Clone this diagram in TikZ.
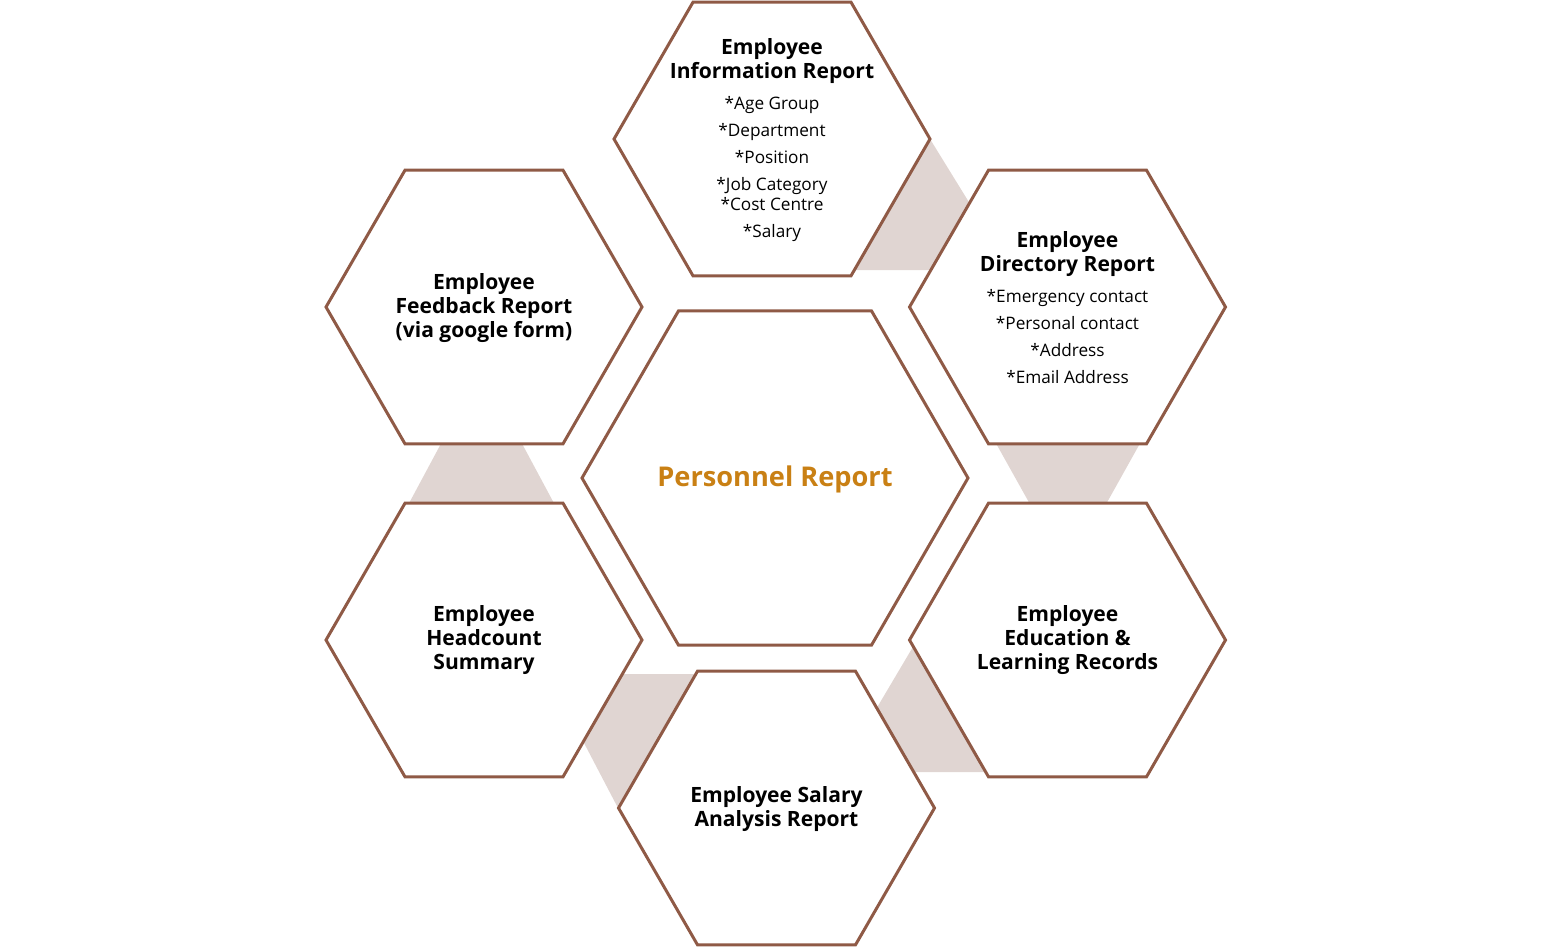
\documentclass[tikz,border=0pt]{standalone}
\usepackage{fontspec}
\setmainfont{Open Sans}
\usetikzlibrary{calc}
\definecolor{hexbrown}{RGB}{143,90,70}
\definecolor{linkgray}{RGB}{224,213,210}
\definecolor{titleorange}{RGB}{201,128,20}
\newcommand{\hexhead}[1]{{\bfseries\fontsize{15.8}{18}\selectfont #1}}

\begin{document}
\begin{tikzpicture}[x=0.75pt,y=-0.75pt,
    hexline/.style={draw=hexbrown,line width=2.25pt,fill=white,line join=miter},
    link/.style={fill=linkgray},
    hextext/.style={align=center,font=\fontsize{12.9}{18}\selectfont}]
    \useasboundingbox (0,0) rectangle (1551,947);

    % grey links between the outer hexagons
    \fill[link] (930,139) -- (975,212) -- (975,270) -- (850,270) -- cycle;
    \fill[link] (993,438) -- (1143,438) -- (1105,506) -- (1031,506) -- cycle;
    \fill[link] (917,640) -- (872,716) -- (905,772) -- (995,772) -- cycle;
    \fill[link] (612,674) -- (700,674) -- (618,808) -- (572,720) -- cycle;
    \fill[link] (444,438) -- (519,438) -- (556,507) -- (407,507) -- cycle;

    % hexagons
    \foreach \name/\x/\y/\r in {main/775/478/193, info/772/139/158,
        dir/1067.5/307/158, edu/1067.5/640/158, sal/776.5/808/158,
        head/484/640/158, feed/484/307/158}{
        \coordinate (\name) at (\x,\y);
        \draw[hexline] (\name) +(0:\r) -- +(60:\r) -- +(120:\r) -- +(180:\r)
            -- +(240:\r) -- +(300:\r) -- cycle;
    }

    \node[font=\bfseries\fontsize{20.4}{24}\selectfont,text=titleorange] (maintext) at (775,479) {Personnel Report};
    \node[hextext] (infotext) at (772,140) {\hexhead{Employee}\\\hexhead{Information Report}\\[5.25pt]
        *Age Group\\[2.25pt]*Department\\[2.25pt]*Position\\[2.25pt]*Job Category\\[-3pt]*Cost Centre\\[2.25pt]*Salary};
    \node[hextext] (dirtext) at (1067.5,308) {\hexhead{Employee}\\\hexhead{Directory Report}\\[5.25pt]
        *Emergency contact\\[2.25pt]*Personal contact\\[2.25pt]*Address\\[2.25pt]*Email Address};
    \node[hextext] (edutext) at (1067.5,640) {\hexhead{Employee}\\\hexhead{Education \&}\\\hexhead{Learning Records}};
    \node[hextext] (saltext) at (776.5,809) {\hexhead{Employee Salary}\\\hexhead{Analysis Report}};
    \node[hextext] (headtext) at (484,640) {\hexhead{Employee}\\\hexhead{Headcount}\\\hexhead{Summary}};
    \node[hextext] (feedtext) at (484,308) {\hexhead{Employee}\\\hexhead{Feedback Report}\\\hexhead{(via google form)}};
\end{tikzpicture}
\end{document}
